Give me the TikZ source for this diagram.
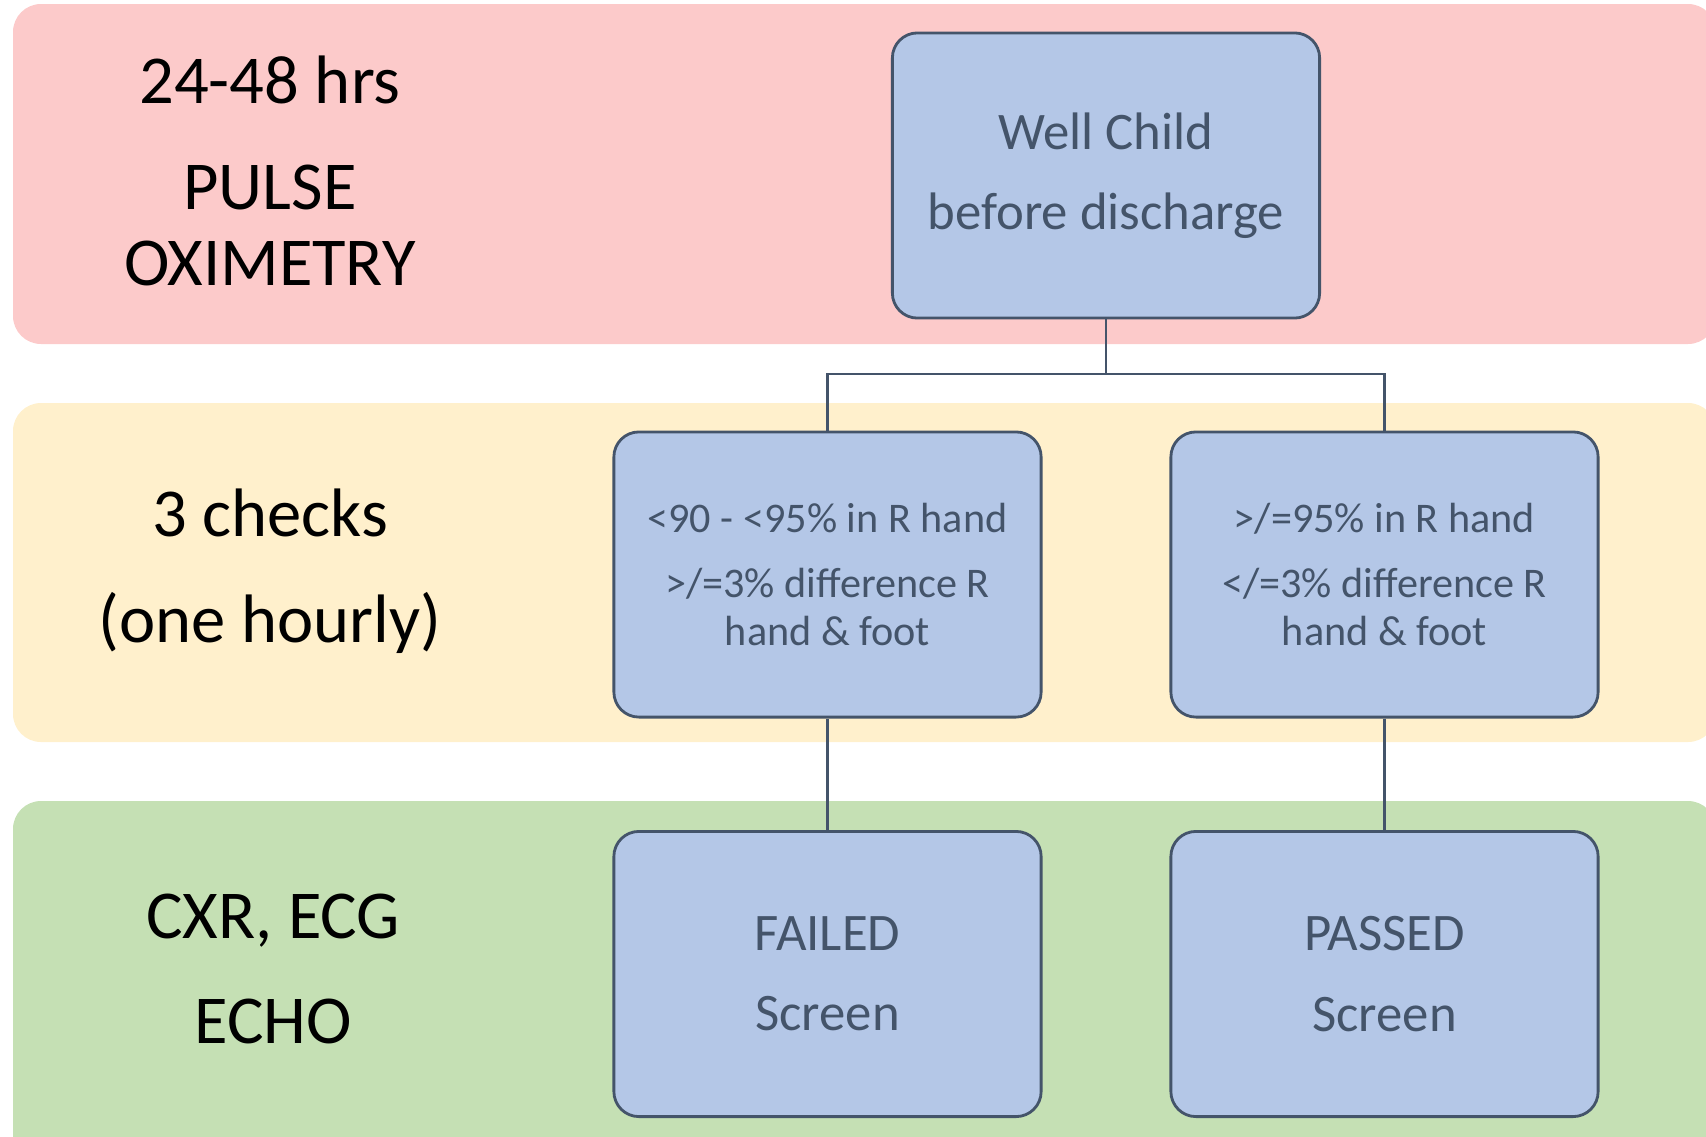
\documentclass[tikz,border=0pt]{standalone}
\usepackage{fontspec}
\setmainfont{Carlito}
\usepackage{tikz}
\usetikzlibrary{positioning, calc}
\definecolor{bandPink}{HTML}{FCCACA}
\definecolor{bandGold}{HTML}{FFF0CC}
\definecolor{bandGreen}{HTML}{C5E0B4}
\definecolor{boxFill}{HTML}{B4C7E7}
\definecolor{boxLine}{HTML}{44546A}

\begin{document}
\begin{tikzpicture}[
    x=0.01cm, y=-0.01cm,
    band/.style={rounded corners=0.28cm},
    lbl/.style={align=center, text=black, font=\fontsize{19.5}{21.6}\selectfont},
    stage/.style={draw=boxLine, line width=0.8pt, fill=boxFill, rounded corners=0.25cm,
        minimum width=4.27cm, minimum height=2.85cm, align=center, text=boxLine},
    big/.style={font=\fontsize{15}{22.8}\selectfont},
    small/.style={font=\fontsize{12}{13.4}\selectfont},
    conn/.style={draw=boxLine, line width=0.6pt},
]
\useasboundingbox (0,0) rectangle (1706,1136);
\clip (0,0) rectangle (1706,1136);

\fill[band, bandPink]  (13,4)   rectangle (1716,344);
\fill[band, bandGold]  (13,403) rectangle (1716,742);
\fill[band, bandGreen] (13,801) rectangle (1716,1170);

\node[lbl] (when)  at (270,171) {24-48 hrs\\[8.4pt]PULSE\\OXIMETRY};
\node[lbl] (howto) at (270,571) {3 checks\\[8.4pt](one hourly)};
\node[lbl] (next)  at (273,969) {CXR, ECG\\[8.4pt]ECHO};

\node[stage, big] (well) at (1106,175.5) {Well Child\\before discharge};
\node[stage, small] (chkL) at (827.5,574.5)
    {<90 - <95\% in R hand\\[5.1pt]>/=3\% difference R\\hand \& foot};
\node[stage, small] (chkR) at (1384.5,574.5)
    {>/=95\% in R hand\\[5.1pt]</=3\% difference R\\hand \& foot};
\node[stage, big] (fail) at (827.5,974) {FAILED\\Screen};
\node[stage, big] (pass) at (1384.5,974) {PASSED\\Screen};

\coordinate (split) at (1106,374);
\draw[conn] (well.south) -- (split);
\draw[conn] (chkL.north) |- (split) -| (chkR.north);
\draw[conn] (chkL.south) -- (fail.north);
\draw[conn] (chkR.south) -- (pass.north);
\end{tikzpicture}
\end{document}
